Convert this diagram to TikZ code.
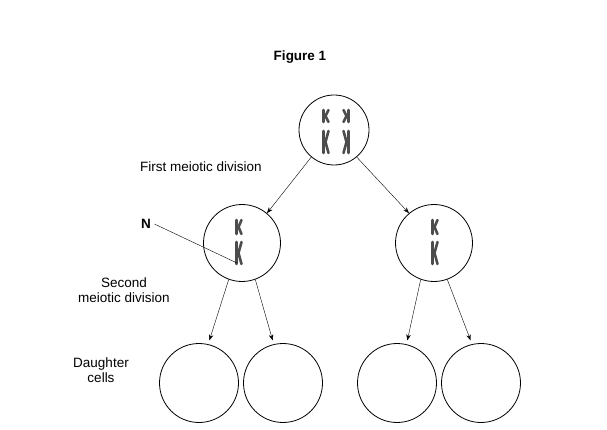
\documentclass[tikz,border=0pt]{standalone}
\usepackage{fontspec}
\usetikzlibrary{arrows.meta}
\setmainfont{Liberation Sans}
\begin{document}
\begin{tikzpicture}[x=1pt,y=-1pt,
  cell/.style={draw,circle,thick,inner sep=0pt},
  arr/.style={-{Stealth[length=6pt,width=4.5pt]},thin},
  lbl/.style={font=\fontsize{13.5}{15.5}\selectfont,align=center},
  chr/.style={draw=gray!60!black,line width=2.6pt,line cap=round,line join=round}]
\useasboundingbox (0,0) rectangle (607,430);
\node[lbl,font=\bfseries\fontsize{13.5}{15.5}\selectfont] (fig) at (300,57) {Figure 1};
\node[cell,minimum size=70pt] (t) at (334,130) {};
\node[cell,minimum size=77pt] (m1) at (242,243) {};
\node[cell,minimum size=77pt] (m2) at (434,243) {};
\foreach \n/\x in {b1/199,b2/283,b3/397,b4/481}
  \node[cell,minimum size=79pt] (\n) at (\x,383) {};
% chromosomes
\newcommand{\chromo}[4]{% x y height flip
  \draw[chr] (#1-1.5*#4,#2-#3/2) -- (#1-1.5*#4,#2+#3/2);
  \draw[chr] (#1+3.5*#4,#2-#3/2) -- (#1+0.5*#4,#2) -- (#1+3.5*#4,#2+#3/2);}
\chromo{325}{116}{12}{1}
\chromo{347}{116}{12}{-1}
\chromo{325}{142}{22}{1}
\chromo{347}{142}{22}{-1}
\chromo{238}{227}{14}{1}
\chromo{238}{253}{22}{1}
\chromo{434}{227}{14}{1}
\chromo{434}{253}{22}{1}
% arrows
\draw[arr] (t.230) -- (m1.50);
\draw[arr] (t.310) -- (m2.130);
\draw[arr] (m1.250) -- ([yshift=4pt]b1.75);
\draw[arr] (m1.290) -- ([yshift=4pt]b2.105);
\draw[arr] (m2.250) -- ([yshift=4pt]b3.75);
\draw[arr] (m2.290) -- ([yshift=4pt]b4.105);
% labels
\node[lbl] (l1) at (201,167) {First meiotic division};
\node[lbl,font=\bfseries\fontsize{13.5}{15.5}\selectfont] (N) at (146,224) {N};
\coordinate (np) at (237,263);
\draw[thin] (N.east) -- (np);
\node[lbl] (l2) at (124,290) {Second\\meiotic division};
\node[lbl] (l3) at (101,370) {Daughter\\cells};
\end{tikzpicture}
\end{document}
